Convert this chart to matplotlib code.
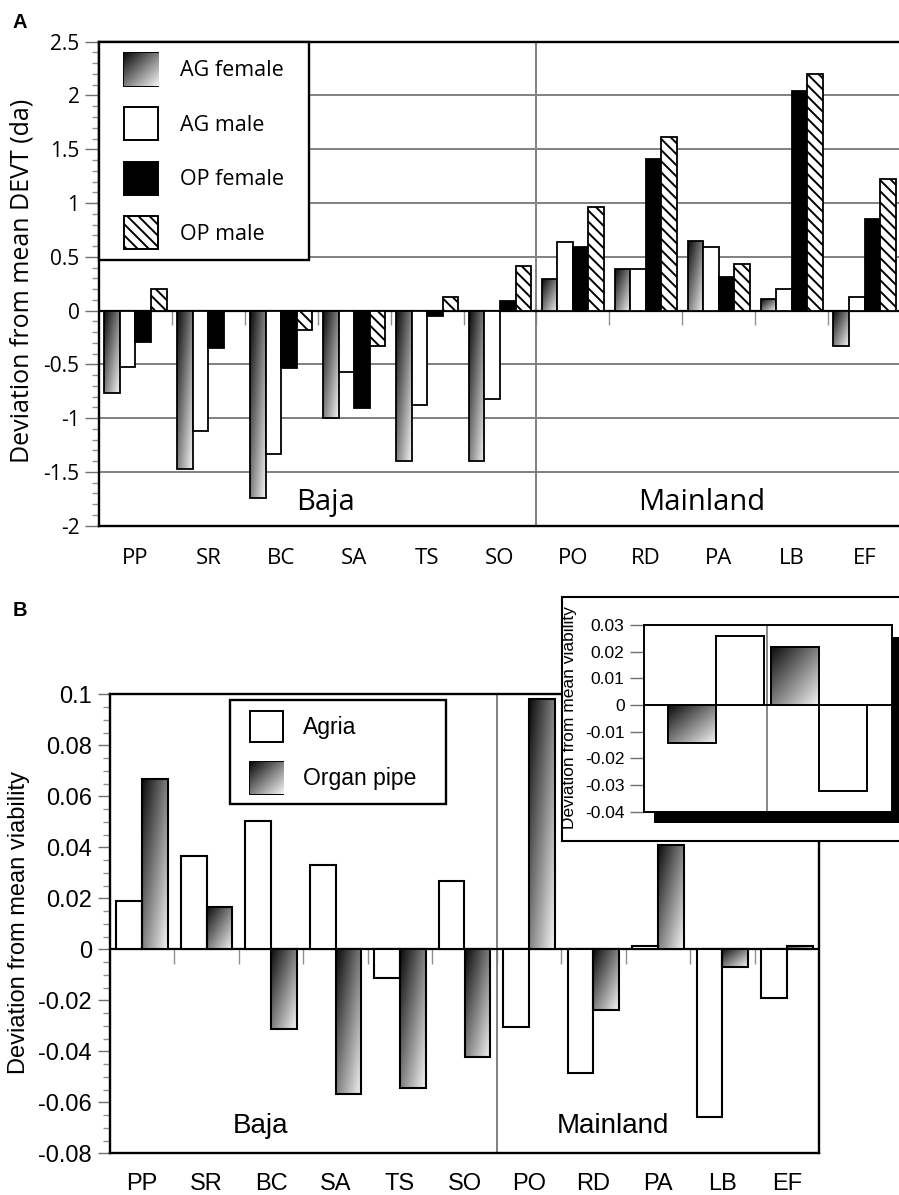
import numpy as np
import matplotlib
matplotlib.use("Agg")
import matplotlib.pyplot as plt
from matplotlib.patches import Rectangle
from matplotlib.ticker import MultipleLocator, FuncFormatter
from matplotlib.legend_handler import HandlerBase
from matplotlib.image import BboxImage
from matplotlib.transforms import Bbox, TransformedBbox

plt.rcParams["font.family"] = ["Open Sans", "DejaVu Sans"]
plt.rcParams["axes.unicode_minus"] = False
plt.rcParams["hatch.linewidth"] = 1.4

populations = ["PP", "SR", "BC", "SA", "TS", "SO", "PO", "RD", "PA", "LB", "EF"]
regions = ["Baja", "Mainland"]

# A: deviation from mean DEVT (days)
ag_female = [-0.77, -1.47, -1.74, -1.00, -1.40, -1.40, 0.29, 0.39, 0.65, 0.11, -0.33]
ag_male = [-0.52, -1.12, -1.33, -0.57, -0.88, -0.82, 0.64, 0.39, 0.59, 0.20, 0.13]
op_female = [-0.29, -0.35, -0.53, -0.91, -0.05, 0.09, 0.59, 1.41, 0.31, 2.04, 0.85]
op_male = [0.20, 0.0, -0.18, -0.33, 0.13, 0.41, 0.96, 1.61, 0.43, 2.20, 1.22]

# B: deviation from mean viability
agria_via = [0.0191, 0.0367, 0.0503, 0.0329, -0.0114, 0.0268, -0.0303, -0.0486, 0.0013, -0.0656, -0.0192]
organ_via = [0.0667, 0.0167, -0.0314, -0.0567, -0.0545, -0.0421, 0.098, -0.0238, 0.0409, -0.0071, 0.0014]

# inset: per region
inset_organ = [-0.0141, 0.0219]
inset_agria = [0.0259, -0.0322]

W, H = 899, 1195
SANS = ["Liberation Sans", "DejaVu Sans"]


def box(l, t, r, b):
    return [l / W, 1 - b / H, (r - l) / W, (b - t) / H]


def grad(n=64):
    u = np.linspace(0, 1, n)
    U, V = np.meshgrid(u, u)
    return 0.04 + 0.92 * (U + (1 - V)) / 2


def fill_gradient(ax, bars):
    for b in bars:
        x0, y, w, h = b.get_x(), b.get_y(), b.get_width(), b.get_height()
        if h == 0:
            continue
        im = ax.imshow(grad(), cmap="gray", vmin=0, vmax=1, origin="lower",
                       extent=(x0, x0 + w, min(y, y + h), max(y, y + h)),
                       aspect="auto", interpolation="bilinear", zorder=2.9)
        im.set_clip_path(b)


class BoxHandler(HandlerBase):
    def __init__(self, face="white", hatch=None, gradient=False, pad_left=0.0):
        super().__init__()
        self.face, self.hatch, self.gradient, self.pad_left = face, hatch, gradient, pad_left

    def create_artists(self, legend, orig_handle, xdescent, ydescent, width, height, fontsize, trans):
        x0 = -xdescent + self.pad_left
        w = width - self.pad_left
        out = []
        if self.gradient:
            bb = TransformedBbox(Bbox.from_bounds(x0, -ydescent, w, height), trans)
            img = BboxImage(bb, cmap="gray", norm=plt.Normalize(0, 1),
                            interpolation="bilinear", origin="lower")
            img.set_data(grad())
            out.append(img)
        rect = Rectangle((x0, -ydescent), w, height, transform=trans,
                         facecolor="none" if self.gradient else self.face,
                         edgecolor="black", lw=1.4, hatch=self.hatch)
        return [rect] + out


fmt = FuncFormatter(lambda v, p: f"{round(v, 4) + 0:g}")
x = np.arange(len(populations))

fig = plt.figure(figsize=(W / 100, H / 100), dpi=100)

# ---------- panel A ----------
axA = fig.add_axes(box(99, 41.7, 901, 525.7))
wA = 0.213
bars = axA.bar(x - 1.5 * wA, ag_female, wA, facecolor="none", edgecolor="black", lw=1.3, zorder=3)
fill_gradient(axA, bars)
axA.bar(x - 0.5 * wA, ag_male, wA, facecolor="white", edgecolor="black", lw=1.3, zorder=3)
axA.bar(x + 0.5 * wA, op_female, wA, facecolor="black", edgecolor="black", lw=1.3, zorder=3)
axA.bar(x + 1.5 * wA, op_male, wA, facecolor="white", edgecolor="black", lw=1.3,
        hatch="\\\\\\", zorder=3)
axA.set_xlim(-0.5, len(populations) - 0.5)
axA.set_ylim(-2, 2.5)
axA.set_axisbelow(True)
axA.yaxis.grid(True, color="#808080", lw=1.4)
axA.axhline(0, color="black", lw=1.6, zorder=2.5)
axA.axvline(5.5, color="#808080", lw=1.4, zorder=2)
axA.yaxis.set_major_locator(MultipleLocator(0.5))
axA.yaxis.set_minor_locator(MultipleLocator(0.1))
axA.yaxis.set_major_formatter(fmt)
axA.tick_params(axis="y", which="major", length=10, width=1, color="#707070", labelsize=15, pad=4)
axA.tick_params(axis="y", which="minor", length=5, width=1, color="#909090")
axA.set_xticks(x, populations)
axA.tick_params(axis="x", length=0, labelsize=16, pad=16)
axA.set_ylabel("Deviation from mean DEVT (da)", fontsize=18)
axA.yaxis.set_label_coords(-0.081, 0.506)
for s in axA.spines.values():
    s.set_linewidth(1.7)
secA = axA.secondary_xaxis(2 / 4.5)
secA.set_xticks(np.arange(0.5, len(populations) - 1, 1))
secA.tick_params(length=10, width=1, color="#909090", labelbottom=False)
secA.spines["bottom"].set_visible(False)
axA.text(2.61, -1.78, regions[0], fontsize=21, ha="center", va="center")
axA.text(7.77, -1.78, regions[1], fontsize=21, ha="center", va="center")

hA = [Rectangle((0, 0), 1, 1) for _ in range(4)]
legA = axA.legend(hA, ["AG female", "AG male", "OP female", "OP male"],
                  handler_map={hA[0]: BoxHandler(gradient=True, pad_left=10),
                               hA[1]: BoxHandler("white", pad_left=10),
                               hA[2]: BoxHandler("black", pad_left=10),
                               hA[3]: BoxHandler("white", hatch="\\\\\\", pad_left=10)},
                  loc="upper left", bbox_to_anchor=(0, 0.4, 0.2616, 0.6), mode="expand",
                  borderaxespad=0, fontsize=15.5, handlelength=2.23, handleheight=1.98,
                  labelspacing=1.0, handletextpad=1.0, borderpad=0.51, fancybox=False,
                  framealpha=1, edgecolor="black")
legA.get_frame().set_linewidth(1.7)

# ---------- panel B ----------
axB = fig.add_axes(box(110, 694.3, 819, 1153.3), zorder=0)
wB = 0.4
axB.bar(x - wB / 2, agria_via, wB, facecolor="white", edgecolor="black", lw=1.5, zorder=3)
bars = axB.bar(x + wB / 2, organ_via, wB, facecolor="none", edgecolor="black", lw=1.5, zorder=3)
fill_gradient(axB, bars)
axB.set_xlim(-0.5, len(populations) - 0.5)
axB.set_ylim(-0.08, 0.1)
axB.axhline(0, color="black", lw=1.6, zorder=2.5)
axB.axvline(5.5, color="#808080", lw=1.4, zorder=2)
axB.yaxis.set_major_locator(MultipleLocator(0.02))
axB.yaxis.set_minor_locator(MultipleLocator(0.005))
axB.yaxis.set_major_formatter(fmt)
axB.tick_params(axis="y", which="major", length=9, width=1, color="#707070",
                labelsize=17, pad=4, labelfontfamily="Liberation Sans")
axB.tick_params(axis="y", which="minor", length=5, width=1, color="#909090")
axB.set_xticks(x, populations)
axB.tick_params(axis="x", length=0, labelsize=17, pad=14, labelfontfamily="Liberation Sans")
axB.set_ylabel("Deviation from mean viability", fontsize=17, family=SANS)
axB.yaxis.set_label_coords(-0.113, 0.502)
for s in axB.spines.values():
    s.set_linewidth(1.7)
secB = axB.secondary_xaxis(0.08 / 0.18)
secB.set_xticks(np.arange(0.5, len(populations) - 1, 1))
secB.tick_params(length=11, width=1, color="#909090", labelbottom=False)
secB.spines["bottom"].set_visible(False)
axB.text(1.84, -0.0693, regions[0], fontsize=20, family=SANS, ha="center", va="center")
axB.text(7.3, -0.0693, regions[1], fontsize=20, family=SANS, ha="center", va="center")

hB = [Rectangle((0, 0), 1, 1) for _ in range(2)]
legB = axB.legend(hB, ["Agria", "Organ pipe"],
                  handler_map={hB[0]: BoxHandler("white", pad_left=6.8),
                               hB[1]: BoxHandler(gradient=True, pad_left=6.8)},
                  loc="upper left", bbox_to_anchor=(0.1693, 0.5, 0.3042, 0.4876), mode="expand",
                  borderaxespad=0, prop={"family": SANS, "size": 16.5}, handlelength=1.86,
                  handleheight=1.745, labelspacing=0.87, handletextpad=0.87, borderpad=0.46,
                  fancybox=False, framealpha=1, edgecolor="black")
legB.get_frame().set_linewidth(1.7)

# ---------- inset ----------
fig.add_artist(Rectangle((561.7 / W, 1 - 840.7 / H), (903 - 561.7) / W, (840.7 - 596.7) / H,
                         transform=fig.transFigure, facecolor="white", edgecolor="black",
                         lw=1.5, zorder=2))
fig.add_artist(Rectangle((654 / W, 1 - 822.7 / H), (906 - 654) / W, (822.7 - 636.7) / H,
                         transform=fig.transFigure, facecolor="black", edgecolor="none",
                         zorder=3))
axI = fig.add_axes(box(644, 625, 892.3, 811.7), zorder=4)
xi = np.arange(len(regions))
wI = 0.47
bars = axI.bar(xi - wI / 2, inset_organ, wI, facecolor="none", edgecolor="black", lw=1.4, zorder=3)
fill_gradient(axI, bars)
axI.bar(xi + wI / 2, inset_agria, wI, facecolor="white", edgecolor="black", lw=1.4, zorder=3)
axI.set_xlim(-0.704, 1.718)
axI.set_ylim(-0.04, 0.03)
axI.axhline(0, color="black", lw=1.4, zorder=2.5)
axI.axvline(0.5, color="#808080", lw=1.3, zorder=2)
axI.set_xticks([])
axI.yaxis.set_major_locator(MultipleLocator(0.01))
axI.yaxis.set_major_formatter(fmt)
axI.tick_params(axis="y", length=10, width=1, color="#707070", labelsize=12.5, pad=4,
                labelfontfamily="Liberation Sans")
axI.set_ylabel("Deviation from mean viability", fontsize=12.5, family=SANS)
axI.yaxis.set_label_coords(-0.27, 0.502)
for s in axI.spines.values():
    s.set_linewidth(1.4)

fig.text(20 / W, 1 - 22 / H, "A", fontsize=14.5, fontweight="bold", family=SANS, ha="center", va="center")
fig.text(20 / W, 1 - 610 / H, "B", fontsize=14.5, fontweight="bold", family=SANS, ha="center", va="center")

fig.savefig("out.png", dpi=100)
